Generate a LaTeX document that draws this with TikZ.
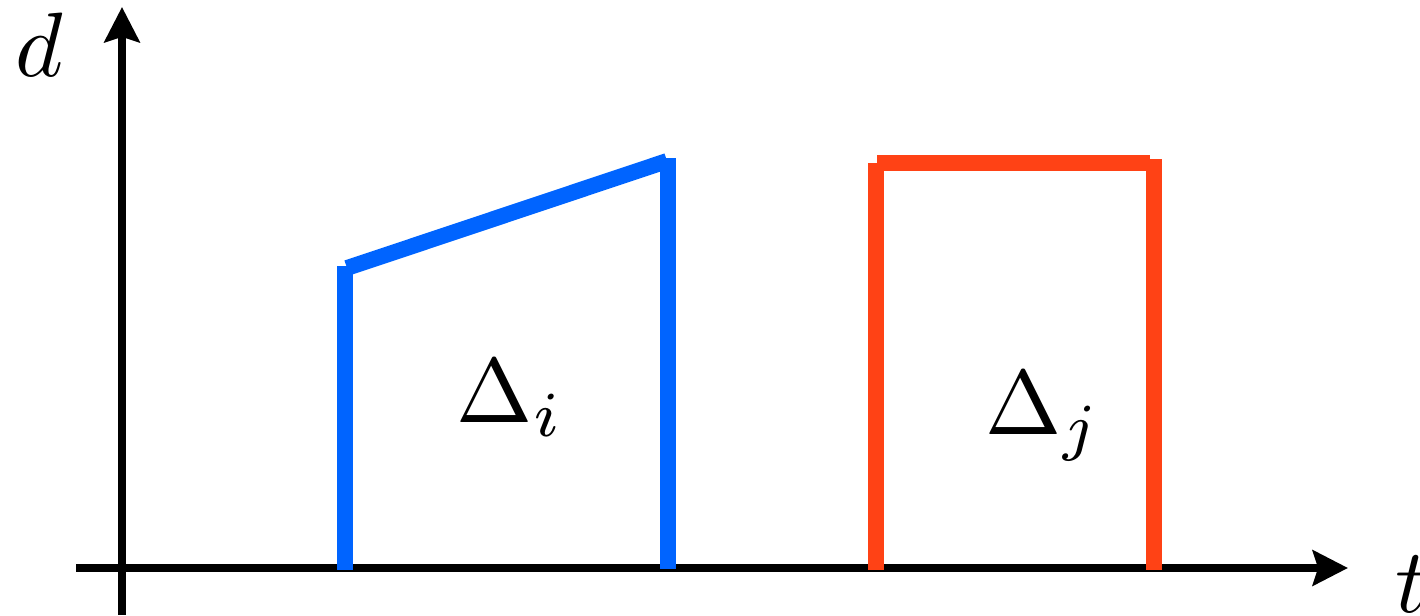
\documentclass[tikz,border=0pt]{standalone}
\usepackage{fix-cm}
\usetikzlibrary{arrows.meta}
\definecolor{segblue}{RGB}{0,100,255}
\definecolor{segred}{RGB}{255,66,21}
\tikzset{
  axis/.style={line width=2.3pt,-{Stealth[length=10pt,width=10pt,inset=1.5pt]}},
  seg/.style={line width=4.5pt},
  biglab/.style={inner sep=0pt,scale=2.6},
  arealab/.style={inner sep=0pt,anchor=base west,scale=2.6}
}
\begin{document}
\begin{tikzpicture}[x=0.01cm,y=-0.01cm]
\useasboundingbox (0,0) rectangle (1420,616);
% axes
\draw[axis] (76,568) -- (1348,568);
\draw[axis] (122,615) -- (122,7);
\node[biglab] (dlab) at (39,45) {$d$};
\node[biglab,anchor=west] (tlab) at (1394,584) {$t$};
% first interval (blue), sloped top
\draw[seg,segblue] (345,570) -- (345,266);
\draw[seg,segblue] (347,268) -- (667,161);
\draw[seg,segblue] (668,569) -- (668,158);
\node[arealab] (di) at (455,423) {$\Delta_i$};
% second interval (red), flat top
\draw[seg,segred] (876,570) -- (876,163);
\draw[seg,segred] (877,163) -- (1150,163);
\draw[seg,segred] (1154,570) -- (1154,159);
\node[arealab] (dj) at (984,435) {$\Delta_j$};
\end{tikzpicture}
\end{document}
